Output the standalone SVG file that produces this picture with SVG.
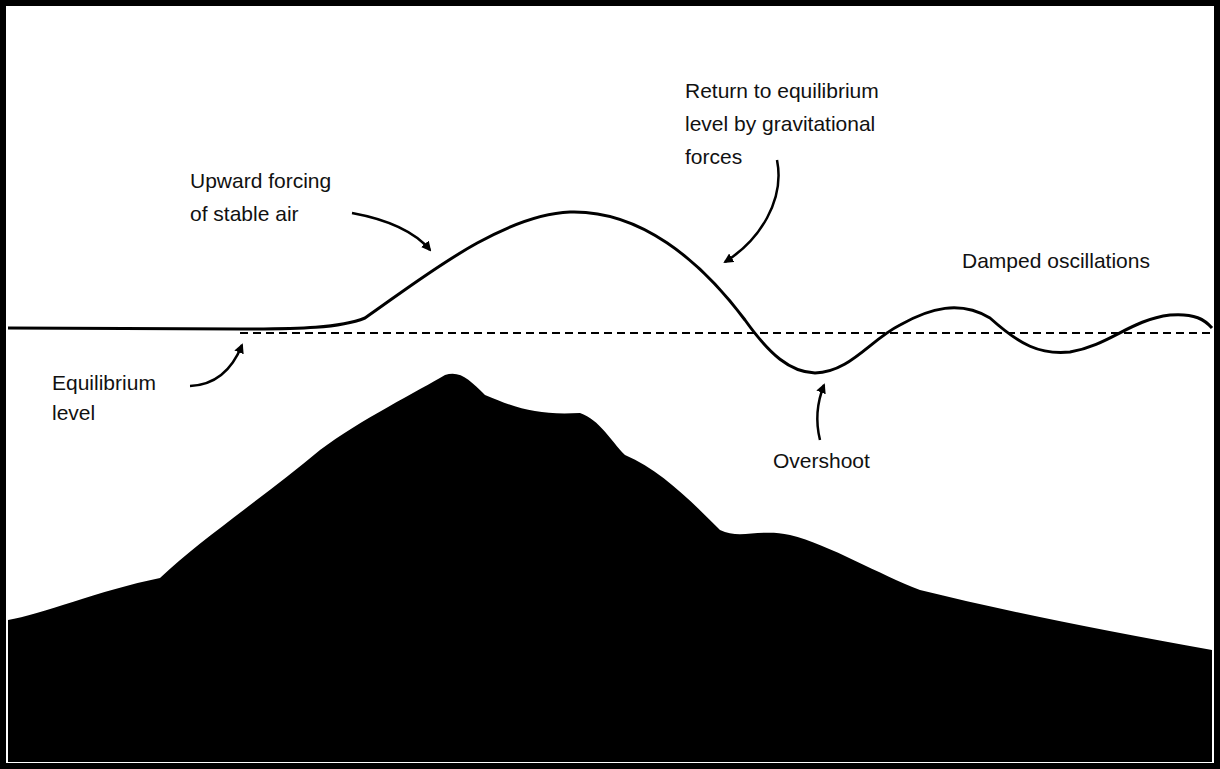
<svg xmlns="http://www.w3.org/2000/svg" width="1220" height="769" viewBox="0 0 1220 769">
<defs>
<style>
text{font-family:"Liberation Sans",Arial,sans-serif;font-size:21px;fill:#111}
.c{fill:none;stroke:#000;stroke-width:3}
.a{fill:none;stroke:#000;stroke-width:2.5}
</style>
<marker id="ah" markerWidth="10" markerHeight="10" refX="8" refY="5" orient="auto" markerUnits="userSpaceOnUse"><path d="M0,0 L10,5 L0,10 Z" fill="#000"/></marker>
</defs>
<rect x="0" y="0" width="1220" height="769" fill="#fff"/>
<path d="M8,620 C40,615 100,590 160,578 C200,540 260,500 320,450 C360,420 420,390 445,375 C460,370 470,380 485,395 C520,410 540,415 580,413 C600,420 610,440 625,455 C660,470 690,500 720,530 C740,540 760,528 790,535 C830,545 880,575 920,590 C1000,610 1100,630 1212,650 L1212,762 L8,762 Z" fill="#000"/>
<g id="connectors">
<path class="c" d="M8,328 L240,329 C300,329 340,328 365,318 C420,280 500,215 570,212 C640,210 700,260 745,320 C770,355 790,372 815,373 C850,372 870,340 900,325 C930,308 960,300 990,318 C1020,345 1040,355 1070,352 C1110,345 1130,320 1170,315 C1195,313 1205,320 1212,328"/>
<line x1="240" y1="333" x2="1212" y2="333" stroke="#000" stroke-width="2" stroke-dasharray="8,5"/>
<path class="a" d="M352,213 C390,220 415,232 430,250" marker-end="url(#ah)"/>
<path class="a" d="M777,160 C785,200 760,240 725,262" marker-end="url(#ah)"/>
<path class="a" d="M190,386 C215,385 232,370 242,345" marker-end="url(#ah)"/>
<path class="a" d="M820,440 C815,420 818,400 824,385" marker-end="url(#ah)"/>
</g>
<g id="labels">
<text x="190" y="188">Upward forcing</text>
<text x="190" y="221">of stable air</text>
<text x="685" y="98">Return to equilibrium</text>
<text x="685" y="131">level by gravitational</text>
<text x="685" y="164">forces</text>
<text x="962" y="268">Damped oscillations</text>
<text x="52" y="390">Equilibrium</text>
<text x="52" y="420">level</text>
<text x="773" y="468">Overshoot</text>
</g>
<rect x="3" y="3" width="1214" height="763" fill="none" stroke="#000" stroke-width="6"/>
</svg>
